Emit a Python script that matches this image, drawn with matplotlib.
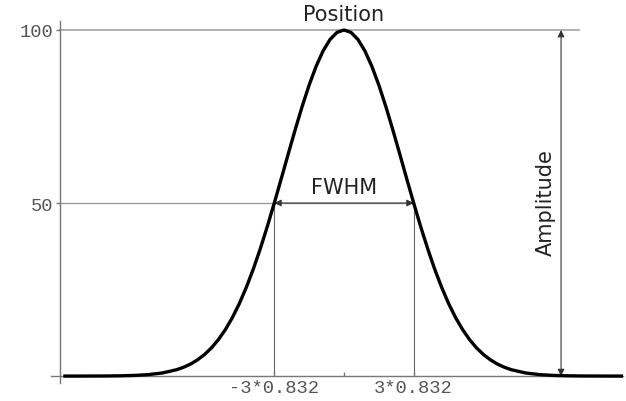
import numpy as np
import matplotlib
matplotlib.use("Agg")
import matplotlib.pyplot as plt

# Gaussian peak (x in units, y in % of amplitude)
x_vals = [-10.0, -9.5, -9.0, -8.5, -8.0, -7.5, -7.0, -6.5, -6.0,
          -5.75, -5.5, -5.25, -5.0, -4.75, -4.5, -4.25, -4.0, -3.75, -3.5,
          -3.25, -3.0, -2.75, -2.5, -2.25, -2.0, -1.75, -1.5, -1.25, -1.0,
          -0.75, -0.5, -0.25, 0.0, 0.25, 0.5, 0.75, 1.0, 1.25, 1.5, 1.75,
          2.0, 2.25, 2.5, 2.75, 3.0, 3.25, 3.5, 3.75, 4.0, 4.25, 4.5, 4.75,
          5.0, 5.25, 5.5, 5.75, 6.0, 6.5, 7.0, 7.5, 8.0, 8.5, 9.0, 9.5, 10.0]
y_vals = [0.00, 0.00, 0.01, 0.03, 0.08, 0.19, 0.43, 0.91, 1.83,
          2.54, 3.47, 4.68, 6.22, 8.15, 10.54, 13.44, 16.90, 20.96, 25.64,
          30.92, 36.79, 43.16, 49.94, 56.98, 64.12, 71.16, 77.88, 84.06, 89.48,
          93.94, 97.26, 99.31, 100.00, 99.31, 97.26, 93.94, 89.48, 84.06, 77.88, 71.16,
          64.12, 56.98, 49.94, 43.16, 36.79, 30.92, 25.64, 20.96, 16.90, 13.44, 10.54, 8.15,
          6.22, 4.68, 3.47, 2.54, 1.83, 0.91, 0.43, 0.19, 0.08, 0.03, 0.01, 0.00, 0.00]

amplitude = 100
position = 0.0
half_width = 3 * 0.832
y_ticks = [50, 100]
y_ticklabels = ["50", "100"]
x_ticklabels = ["-3*0.832", "3*0.832"]

fig = plt.figure(figsize=(6.26, 4.02), dpi=100)
ax = fig.add_axes([0.0815, 0.0448, 0.9137, 0.9005])
ax.set_xlim(-10.5, 10.0)
ax.set_ylim(-2.0, 102.6)

axis_col = "#777777"
ax.spines["top"].set_visible(False)
ax.spines["right"].set_visible(False)
ax.spines["left"].set_position(("data", -10.18))
ax.spines["bottom"].set_position(("data", 0))
for s in ("left", "bottom"):
    ax.spines[s].set_color(axis_col)
    ax.spines[s].set_linewidth(1.0)

mono = "Liberation Mono"
ax.set_yticks(y_ticks)
ax.set_yticklabels(y_ticklabels, fontfamily=mono, fontsize=13.5, color="#555555")
ax.tick_params(axis="y", direction="out", length=3, width=1, color=axis_col, pad=2)

ax.set_xticks([-half_width, position, half_width])
ax.set_xticklabels([x_ticklabels[0], "", x_ticklabels[1]],
                   fontfamily=mono, fontsize=13.5, color="#555555")
ax.tick_params(axis="x", direction="in", length=3, width=1, color=axis_col, pad=2)

# reference lines
ax.plot([-10.18, 8.42], [amplitude, amplitude], color="#aaaaaa", lw=1.3, zorder=1)
ax.plot([-10.18, half_width], [amplitude / 2, amplitude / 2], color="#999999", lw=1.0, zorder=1)
for xv in (-half_width, half_width):
    ax.plot([xv, xv], [0, amplitude / 2], color="#666666", lw=0.8, zorder=1)

# the peak
ax.plot(x_vals, y_vals, color="black", lw=2.4, solid_joinstyle="round", zorder=3)

# FWHM arrow
arr = dict(arrowstyle="<|-|>", color="#333333", lw=0.8, mutation_scale=10,
           shrinkA=0, shrinkB=0)
ax.annotate("", xy=(half_width, amplitude / 2), xytext=(-half_width, amplitude / 2),
            arrowprops=arr, zorder=2)
ax.text(position, amplitude / 2 + 1.6, "FWHM", ha="center", va="bottom",
        fontsize=15, color="#222222")

# Amplitude arrow
ax.annotate("", xy=(7.78, amplitude), xytext=(7.78, 0), arrowprops=arr, zorder=2)
ax.text(7.25, 50.5, "Amplitude", rotation=90, ha="center", va="center",
        fontsize=15, color="#222222")

# Position label
ax.text(position, 104.6, "Position", ha="center", va="center",
        fontsize=15, color="#222222", clip_on=False)

fig.savefig("out.png", dpi=100)
